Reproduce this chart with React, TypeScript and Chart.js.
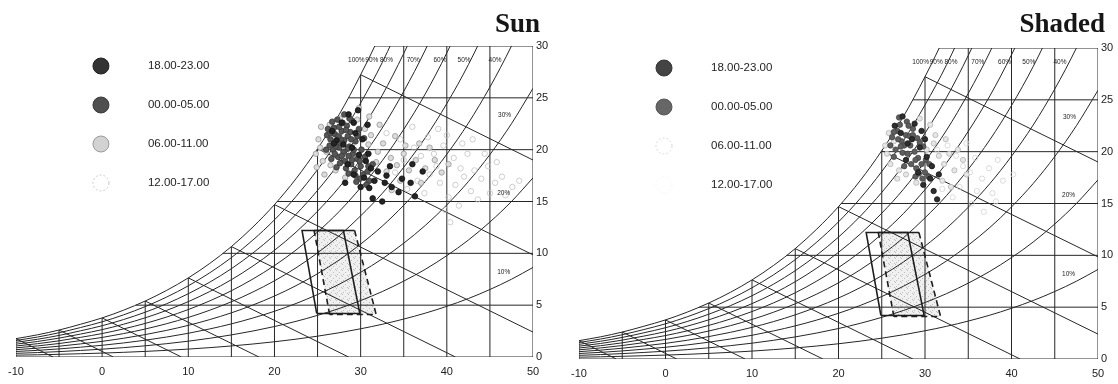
import React, { useEffect, useRef } from "react";
import { Chart, registerables } from "chart.js";

Chart.register(...registerables);

type Pt = [number, number];

// ---------- axes ----------
const X_TICKS = [-10, 0, 10, 20, 30, 40, 50];
const Y_TICKS = [0, 5, 10, 15, 20, 25, 30];

// ---------- psychrometric frame (dry-bulb °C, humidity ratio g/kg) ----------
const SAT_T = [-10, -7.5, -5, -2.5, 0, 2.5, 5, 7.5, 10, 12.5, 15, 17.5, 20, 22.5, 25, 27.5, 30, 32.5, 35, 37.5, 40, 42.5, 45, 47.5, 50];
const SAT_W = [1.77, 2.14, 2.6, 3.16, 3.77, 4.52, 5.4, 6.43, 7.63, 9.03, 10.65, 12.54, 14.7, 17.2, 20.09, 23.38, 27.23, 31.55, 36.6, 42.3, 48.9, 56.4, 65.1, 75.0, 86.4];
const RH_LEVELS = [100, 90, 80, 70, 60, 50, 40, 30, 20, 10];

// vertical dry-bulb lines: temperature and top humidity
const DRY_BULB_T = [-10, -5, 0, 5, 10, 15, 20, 25, 30, 35, 40, 45, 50];
const DRY_BULB_TOP = [1.77, 2.6, 3.77, 5.4, 7.63, 10.65, 14.7, 20.09, 27.23, 30, 30, 30, 30];

// horizontal humidity lines: humidity and start temperature (on the saturation curve)
const HUMID_W = [0, 5, 10, 15, 20, 25, 30];
const HUMID_START = [-10, 3.9, 14.0, 20.3, 25.0, 28.6, 31.6];

// wet-bulb lines: [t1, w1, t2, w2]
const WET_BULB_LINES: number[][] = [
  [-10, 1.77, -5.7, 0],
  [-5, 2.6, 1.3, 0],
  [0, 3.77, 9.2, 0],
  [5, 5.4, 18.2, 0],
  [10, 7.63, 28.6, 0],
  [15, 10.65, 41.0, 0],
  [20, 14.7, 50, 2.4],
  [25, 20.09, 50, 9.85],
  [30, 27.23, 50, 19.0],
];

// RH labels
const RH_LABEL_TEXT = ["100%", "90%", "80%", "70%", "60%", "50%", "40%", "30%", "20%", "10%"];
const RH_LABEL_T = [29.5, 31.3, 33.0, 36.1, 39.2, 42.0, 45.6, 46.7, 46.6, 46.6];
const RH_LABEL_W = [28.6, 28.6, 28.6, 28.6, 28.6, 28.6, 28.6, 23.3, 15.8, 8.2];

// comfort zone polygons
const COMFORT_SOLID: Pt[] = [[24.9, 4.2], [23.2, 12.2], [28.0, 12.2], [29.9, 4.2], [24.9, 4.2]];
const COMFORT_DASHED: Pt[] = [[26.4, 4.1], [24.6, 12.2], [29.3, 12.2], [31.8, 4.1], [26.4, 4.1]];

// ---------- legend ----------
const LEGEND_LABELS = ["18.00-23.00", "00.00-05.00", "06.00-11.00", "12.00-17.00"];

// ---------- Sun data ----------
const SUN_18_23: Pt[] = [
  [28.6, 23.4], [29.2, 22.6], [30.8, 22.4], [29.4, 21.6], [30.2, 21.0], [28.0, 20.5], [29.0, 20.2], [29.8, 19.5],
  [30.6, 18.9], [31.2, 18.2], [32.0, 17.9], [32.8, 16.8], [31.0, 16.3], [31.4, 15.3], [33.6, 16.4], [34.4, 15.9],
  [35.8, 16.8], [36.3, 15.5], [33.0, 17.5], [30.4, 17.3], [29.2, 17.6], [28.5, 18.6], [27.2, 20.9], [26.7, 21.8],
  [29.7, 23.8], [27.8, 22.6], [31.6, 17.0], [30.0, 16.4], [34.8, 17.2], [37.2, 17.9], [33.4, 18.4], [36.0, 18.6],
  [28.2, 16.8], [32.5, 15.0], [30.9, 19.6], [26.9, 20.6],
];
const SUN_00_05: Pt[] = [
  [26.5, 21.0], [27.0, 21.5], [27.2, 20.6], [27.8, 21.8], [28.1, 20.9], [28.5, 21.3], [27.5, 20.2], [26.8, 20.0],
  [28.0, 19.8], [28.7, 20.3], [29.1, 19.6], [29.4, 20.8], [28.4, 22.3], [27.9, 22.6], [27.4, 19.3], [28.2, 18.9],
  [28.9, 18.6], [29.6, 19.1], [30.0, 18.4], [29.3, 18.0], [28.6, 17.7], [30.3, 17.6], [30.8, 17.9], [29.9, 17.2],
  [27.0, 19.6], [26.4, 20.4], [26.1, 21.4], [26.9, 22.1], [28.8, 21.7], [29.6, 21.3], [30.1, 20.0], [29.8, 22.0],
  [27.6, 18.7], [28.3, 18.2], [31.0, 17.0], [30.5, 19.3], [26.6, 19.1], [27.3, 22.9], [28.1, 23.4], [29.0, 22.8],
  [31.4, 18.6], [30.7, 16.6], [29.5, 16.9], [28.6, 19.4], [27.7, 21.0],
  [26.2, 22.0], [26.7, 22.7], [27.4, 21.3], [28.3, 21.9], [27.1, 20.3], [27.9, 20.6], [28.9, 21.0], [29.2, 20.0],
  [28.5, 20.1], [27.8, 19.4], [29.9, 18.9], [29.0, 19.0], [26.5, 21.6], [27.5, 22.2], [28.7, 23.0], [30.4, 21.1],
  [30.9, 18.4], [29.4, 17.5], [26.0, 20.0], [27.2, 18.3],
];
const SUN_06_11: Pt[] = [
  [24.8, 19.6], [25.3, 20.2], [25.6, 18.9], [26.0, 19.8], [25.1, 21.0], [26.5, 18.5], [27.1, 18.0], [25.8, 17.6],
  [26.4, 22.4], [27.6, 23.0], [29.6, 22.9], [30.5, 22.0], [31.2, 21.4], [30.9, 20.5], [32.0, 19.8], [32.6, 20.6],
  [31.8, 18.8], [33.5, 19.2], [34.2, 18.5], [33.0, 17.9], [35.0, 19.6], [35.6, 18.0], [36.4, 19.0], [34.6, 17.0],
  [37.5, 18.2], [38.6, 19.0], [39.4, 17.8], [32.2, 22.4], [31.0, 23.2], [29.8, 24.0], [34.0, 21.3], [36.8, 20.6],
  [38.0, 20.2], [24.9, 18.3], [25.4, 22.2], [28.2, 17.3], [35.2, 20.4], [37.0, 16.8], [33.6, 16.1], [40.2, 18.6],
];
const SUN_12_17: Pt[] = [
  [33.0, 21.6], [34.6, 21.0], [36.2, 20.2], [37.8, 21.2], [38.5, 19.6], [39.6, 20.4], [40.8, 19.2], [41.6, 18.2],
  [42.4, 19.6], [43.2, 18.0], [44.0, 17.2], [44.8, 18.4], [45.6, 16.8], [46.4, 17.4], [47.6, 16.4], [42.8, 16.0],
  [41.0, 16.6], [40.2, 15.4], [39.8, 14.2], [40.4, 13.0], [39.2, 16.8], [38.0, 17.6], [36.6, 17.0], [35.4, 16.2],
  [37.4, 15.8], [43.6, 15.2], [45.0, 15.8], [46.8, 15.6], [41.8, 20.6], [40.0, 21.4], [36.0, 22.2], [35.0, 19.0],
  [38.8, 18.4], [42.0, 17.4], [44.4, 19.6], [43.0, 21.0], [39.0, 22.0], [48.4, 17.0], [34.0, 17.8], [37.0, 19.4],
  [45.8, 18.8], [41.4, 14.6],
];

// ---------- Shaded data ----------
const SHADE_18_23: Pt[] = [
  [27.4, 23.4], [28.8, 22.7], [29.6, 22.0], [28.5, 21.2], [29.4, 20.4], [30.2, 19.5], [30.8, 18.6], [30.6, 17.4],
  [29.8, 16.8], [31.0, 16.2], [31.4, 15.4], [28.0, 20.8], [27.2, 21.8], [26.5, 22.5], [30.0, 21.2], [31.6, 17.8],
  [29.2, 18.0], [27.8, 19.2],
];
const SHADE_00_05: Pt[] = [
  [26.2, 21.4], [26.8, 22.0], [27.3, 21.0], [27.8, 21.6], [28.3, 20.6], [28.0, 19.8], [27.4, 19.9], [26.6, 20.2],
  [28.8, 20.0], [29.2, 19.4], [29.6, 18.8], [29.0, 18.4], [28.4, 18.8], [30.0, 18.0], [30.4, 17.6], [29.7, 17.4],
  [27.1, 22.6], [27.9, 22.9], [28.6, 22.2], [29.1, 21.3], [26.4, 19.5], [27.6, 18.6], [29.8, 20.5], [28.9, 17.6],
  [30.5, 18.8], [26.0, 20.6], [27.0, 23.3], [28.2, 21.5],
  [26.9, 21.2], [27.6, 20.6], [28.6, 21.6], [28.9, 19.2], [27.2, 20.5], [29.4, 20.9], [29.3, 17.9], [26.4, 21.9],
  [28.1, 22.5], [30.1, 19.2],
];
const SHADE_06_11: Pt[] = [
  [25.6, 19.8], [26.0, 18.8], [26.4, 21.0], [25.8, 21.8], [27.0, 18.2], [27.8, 17.8], [29.0, 17.0], [30.2, 20.2],
  [31.0, 20.8], [31.6, 19.6], [32.2, 18.8], [32.8, 19.8], [33.4, 18.2], [32.0, 17.2], [31.2, 21.6], [30.6, 22.6],
  [29.4, 23.2], [33.8, 20.2], [34.4, 19.2], [33.0, 16.6], [26.8, 17.4], [25.4, 20.6], [32.4, 21.2], [34.8, 17.8],
];
const SHADE_12_17: Pt[] = [
  [31.4, 20.2], [32.6, 20.6], [33.6, 19.6], [34.4, 18.6], [35.2, 18.0], [35.8, 19.4], [36.6, 17.4], [37.4, 18.4],
  [38.4, 19.2], [36.0, 16.2], [34.0, 16.6], [33.2, 15.6], [35.4, 15.0], [37.8, 16.0], [39.0, 17.2], [34.8, 20.8],
  [32.0, 16.4], [36.8, 14.2], [38.2, 15.2], [40.2, 17.8],
];

// ---------- styling ----------
interface GroupStyle { fill: string; border: string; r: number; legendFill: string; legendBorder: string; dashed?: boolean }
interface Area { left: number; top: number; right: number; bottom: number }

const LINE_COLOR = "#262626";
const W = 559;
const H = 384;

const SUN_STYLES: GroupStyle[] = [
  { fill: "#242424", border: "#111111", r: 2.8, legendFill: "#333333", legendBorder: "#222222" },
  { fill: "#565656", border: "#3a3a3a", r: 2.8, legendFill: "#4f4f4f", legendBorder: "#3a3a3a" },
  { fill: "#dcdcdc", border: "#959595", r: 2.7, legendFill: "#d2d2d2", legendBorder: "#9a9a9a" },
  { fill: "rgba(255,255,255,0)", border: "#c2c2c2", r: 2.7, legendFill: "rgba(255,255,255,0)", legendBorder: "#c8c8c8", dashed: true },
];
const SHADE_STYLES: GroupStyle[] = [
  { fill: "#2e2e2e", border: "#161616", r: 2.7, legendFill: "#444444", legendBorder: "#333333" },
  { fill: "#5e5e5e", border: "#444444", r: 2.7, legendFill: "#666666", legendBorder: "#555555" },
  { fill: "#e6e6e6", border: "#b2b2b2", r: 2.6, legendFill: "rgba(255,255,255,0)", legendBorder: "#d8d8d8", dashed: true },
  { fill: "rgba(255,255,255,0)", border: "#d2d2d2", r: 2.6, legendFill: "rgba(255,255,255,0)", legendBorder: "#f4f4f4", dashed: true },
];

const toXY = (p: Pt) => ({ x: p[0], y: p[1] });

function makeStipple(): CanvasPattern | string {
  const c = document.createElement("canvas");
  c.width = 6;
  c.height = 6;
  const g = c.getContext("2d");
  if (!g) return "rgba(220,220,220,0.5)";
  g.fillStyle = "#f0f0f0";
  g.fillRect(0, 0, 6, 6);
  g.fillStyle = "#bdbdbd";
  const dots = [[0, 0], [3, 2], [1, 4], [5, 5]];
  dots.forEach(([a, b]) => g.fillRect(a, b, 1, 1));
  return g.createPattern(c, "repeat") || "#e6e6e6";
}

interface PanelProps { title: string; groups: Pt[][]; styles: GroupStyle[]; area: Area; offset: number }

function Panel({ title, groups, styles, area, offset }: PanelProps) {
  const ref = useRef<HTMLCanvasElement>(null);

  useEffect(() => {
    const canvas = ref.current;
    if (!canvas) return;
    const stipple = makeStipple();

    const line = (data: { x: number; y: number }[], extra: any = {}) => ({
      data,
      showLine: true,
      pointRadius: 0,
      borderColor: LINE_COLOR,
      borderWidth: 1,
      fill: false,
      order: 100,
      ...extra,
    });

    const datasets: any[] = [];

    // comfort zone outlines
    datasets.push(
      line(COMFORT_DASHED.map(toXY), {
        borderWidth: 1.6,
        borderColor: "#1e1e1e",
        order: 90,
        segment: { borderDash: (ctx: any) => (ctx.p0DataIndex === 1 ? [] : [6, 4]) },
      })
    );
    datasets.push(line(COMFORT_SOLID.map(toXY), { borderWidth: 1.6, borderColor: "#1e1e1e", order: 90 }));

    // RH curves
    RH_LEVELS.forEach((rh) => {
      datasets.push(
        line(SAT_T.map((t, i) => ({ x: t, y: (SAT_W[i] * rh) / 100 })), { cubicInterpolationMode: "monotone" })
      );
    });
    // dry bulb verticals
    DRY_BULB_T.forEach((t, i) => {
      datasets.push(line([{ x: t, y: 0 }, { x: t, y: DRY_BULB_TOP[i] }]));
    });
    // humidity horizontals
    HUMID_W.forEach((w, i) => {
      datasets.push(line([{ x: HUMID_START[i], y: w }, { x: 50, y: w }]));
    });
    // wet bulb lines
    WET_BULB_LINES.forEach((l) => {
      datasets.push(line([{ x: l[0], y: l[1] }, { x: l[2], y: l[3] }]));
    });

    // scatter groups: 18-23 on top
    groups.forEach((g, i) => {
      const s = styles[i];
      datasets.push({
        data: g.map(toXY),
        showLine: false,
        pointRadius: s.r,
        pointBackgroundColor: s.fill,
        pointBorderColor: s.border,
        pointBorderWidth: 0.8,
        order: 1 + i,
      });
    });

    const zoneFill = {
      id: "zoneFill",
      beforeDatasetsDraw(chart: any) {
        const { ctx } = chart;
        const xs = chart.scales.x;
        const ys = chart.scales.y;
        ctx.save();
        ctx.beginPath();
        COMFORT_DASHED.forEach((p, i) => {
          const px = xs.getPixelForValue(p[0]);
          const py = ys.getPixelForValue(p[1]);
          if (i === 0) ctx.moveTo(px, py);
          else ctx.lineTo(px, py);
        });
        ctx.closePath();
        ctx.fillStyle = stipple;
        ctx.fill();
        ctx.restore();
      },
    };

    const overlay = {
      id: "overlay",
      afterDatasetsDraw(chart: any) {
        const { ctx, chartArea: a } = chart;
        const xs = chart.scales.x;
        const ys = chart.scales.y;
        ctx.save();
        // RH labels
        ctx.font = '6.5px "Liberation Sans", Arial, sans-serif';
        ctx.fillStyle = "#222";
        ctx.textAlign = "center";
        ctx.textBaseline = "middle";
        RH_LABEL_TEXT.forEach((t, i) => {
          ctx.fillText(t, xs.getPixelForValue(RH_LABEL_T[i]), ys.getPixelForValue(RH_LABEL_W[i]));
        });
        // title
        ctx.font = 'bold 27px "Liberation Serif", "Times New Roman", serif';
        ctx.textAlign = "right";
        ctx.textBaseline = "alphabetic";
        ctx.fillStyle = "#161616";
        ctx.fillText(title, a.right + 7, 32);
        // legend
        ctx.font = '11.5px "Liberation Sans", Arial, sans-serif';
        ctx.textAlign = "left";
        ctx.textBaseline = "middle";
        LEGEND_LABELS.forEach((lab, i) => {
          const cx = a.left + 85;
          const cy = a.top + 20 + i * 39;
          const s = styles[i];
          ctx.beginPath();
          ctx.arc(cx, cy, 8, 0, Math.PI * 2);
          ctx.fillStyle = s.legendFill;
          ctx.fill();
          ctx.lineWidth = 1;
          ctx.strokeStyle = s.legendBorder;
          ctx.setLineDash(s.dashed ? [2, 2] : []);
          ctx.stroke();
          ctx.setLineDash([]);
          ctx.fillStyle = "#1e1e1e";
          ctx.fillText(lab, a.left + 132, cy);
        });
        ctx.restore();
      },
    };

    const chart = new Chart(canvas, {
      type: "scatter",
      data: { datasets },
      options: {
        animation: false,
        responsive: false,
        events: [],
        layout: { padding: { left: area.left, top: area.top, right: 0, bottom: 0 } },
        plugins: { legend: { display: false }, tooltip: { enabled: false }, title: { display: false } },
        scales: {
          x: {
            type: "linear",
            min: -10,
            max: 50,
            grid: { display: false, drawTicks: false },
            border: { display: false },
            afterBuildTicks: (s: any) => {
              s.ticks = X_TICKS.map((v) => ({ value: v }));
            },
            afterFit: (s: any) => {
              s.height = H - area.bottom;
            },
            ticks: {
              padding: 8,
              maxRotation: 0,
              autoSkip: false,
              color: "#222",
              font: { family: '"Liberation Sans", Arial, sans-serif', size: 11 },
            },
          },
          y: {
            type: "linear",
            position: "right",
            min: 0,
            max: 30,
            grid: { display: false, drawTicks: false },
            border: { display: false },
            afterBuildTicks: (s: any) => {
              s.ticks = Y_TICKS.map((v) => ({ value: v }));
            },
            afterFit: (s: any) => {
              s.width = W - area.right;
            },
            ticks: {
              padding: 3,
              color: "#222",
              font: { family: '"Liberation Sans", Arial, sans-serif', size: 11 },
            },
          },
        },
      } as any,
      plugins: [zoneFill, overlay],
    });
    return () => chart.destroy();
  }, [title, groups, styles, area]);

  return (
    <canvas
      ref={ref}
      width={W}
      height={H}
      style={{ position: "absolute", left: offset, top: 0, width: W, height: H, display: "block" }}
    />
  );
}

const SUN_AREA: Area = { left: 11, top: 46, right: 533, bottom: 357 };
const SHADE_AREA: Area = { left: 20, top: 48, right: 539, bottom: 359 };
const SUN_GROUPS = [SUN_18_23, SUN_00_05, SUN_06_11, SUN_12_17];
const SHADE_GROUPS = [SHADE_18_23, SHADE_00_05, SHADE_06_11, SHADE_12_17];

export default function App() {
  return (
    <div style={{ position: "fixed", left: 0, top: 0, width: 1118, height: 384, background: "#ffffff", overflow: "hidden" }}>
      <Panel title="Sun" groups={SUN_GROUPS} styles={SUN_STYLES} area={SUN_AREA} offset={0} />
      <Panel title="Shaded" groups={SHADE_GROUPS} styles={SHADE_STYLES} area={SHADE_AREA} offset={559} />
    </div>
  );
}
